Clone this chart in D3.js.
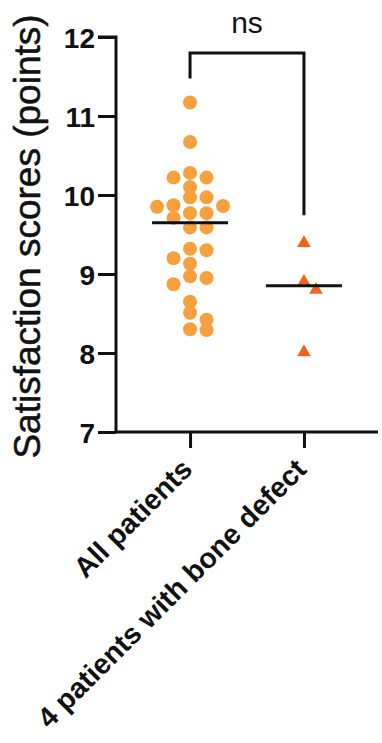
<!DOCTYPE html>
<html>
<head>
<meta charset="utf-8">
<script src="https://cdn.jsdelivr.net/npm/d3@7"></script>
<style>
  html, body { margin: 0; padding: 0; background: #fff; }
  svg { display: block; }
  text { font-family: "Liberation Sans", Arial, sans-serif; fill: #111; }
</style>
</head>
<body>
<svg id="chart" width="382" height="743"></svg>
<script>
// ---- data ----
const categories = ["All patients", "4 patients with bone defect"];
const allPatients = [11.17, 10.67, 10.28, 10.22, 10.22, 10.10, 9.97, 9.97, 9.87, 9.86, 9.85,
  9.77, 9.77, 9.71, 9.59, 9.59, 9.32, 9.30, 9.20, 9.13, 8.97, 8.95, 8.87, 8.65, 8.51, 8.42, 8.30, 8.29];
const boneDefect = [9.39, 8.90, 8.80, 8.01];
const yTicks = [7, 8, 9, 10, 11, 12];
const yLabel = "Satisfaction scores (points)";
const sigLabel = "ns";

// ---- layout ----
const svg = d3.select("#chart");
const x = d3.scalePoint().domain(categories).range([116, 378]).padding(0.65);
const y = d3.scaleLinear().domain([7, 12]).range([432, 37]);

// axes
const yAxis = d3.axisLeft(y).tickValues(yTicks).tickSize(18).tickPadding(3).tickFormat(d3.format("d"));
const gy = svg.append("g").attr("transform", "translate(116,0)").call(yAxis);
gy.select(".domain").attr("stroke", "#111").attr("stroke-width", 3)
  .attr("d", `M-18,${y(12)}H0V${y(7)}H0`);
gy.selectAll(".tick line").attr("stroke", "#111").attr("stroke-width", 3);
gy.selectAll(".tick text").style("font-size", "28px").style("font-weight", "bold")
  .attr("dy", "0.36em").attr("fill", "#111");

const xAxis = d3.axisBottom(x).tickSize(16).tickFormat("");
const gx = svg.append("g").attr("transform", `translate(0,${y(7)})`).call(xAxis);
gx.select(".domain").attr("stroke", "#111").attr("stroke-width", 3)
  .attr("d", `M114.5,0H378`);
gx.selectAll(".tick line").attr("stroke", "#111").attr("stroke-width", 3);

// x labels rotated
svg.append("g").selectAll("text").data(categories).join("text")
  .attr("transform", d => `translate(${x(d) + 4},${y(7) + 39}) rotate(-45)`)
  .attr("text-anchor", "end")
  .style("font-size", "28.5px").style("font-weight", "bold")
  .text(d => d);

// y title
svg.append("text")
  .attr("transform", `translate(40,${(y(7) + y(12)) / 2 + 2}) rotate(-90)`)
  .attr("text-anchor", "middle")
  .style("font-size", "37px")
  .style("stroke", "#111").style("stroke-width", 0.5)
  .text(yLabel);

// beeswarm placement into columns
function swarm(values, step, gap) {
  const order = [0, 1, -1, 2, -2, 3, -3];
  const placed = [];
  const sorted = values.slice().sort((a, b) => b - a);
  sorted.forEach(v => {
    const py = y(v);
    for (const c of order) {
      const clash = placed.some(p => p.c === c && Math.abs(p.py - py) < gap);
      if (!clash) { placed.push({ v, py, c, dx: c * step }); break; }
    }
  });
  return placed;
}

const circ = swarm(allPatients, 16.5, 10);
svg.append("g").selectAll("circle").data(circ).join("circle")
  .attr("cx", d => x(categories[0]) + d.dx)
  .attr("cy", d => d.py)
  .attr("r", 7)
  .attr("fill", "#F7A03E");

const tri = swarm(boneDefect, 12, 10);
svg.append("g").selectAll("path").data(tri).join("path")
  .attr("transform", d => `translate(${x(categories[1]) + d.dx},${d.py})`)
  .attr("d", d3.symbol(d3.symbolTriangle, 80))
  .attr("fill", "#F0641C");

// medians
const groups = [allPatients, boneDefect];
svg.append("g").selectAll("line").data(groups).join("line")
  .attr("x1", (d, i) => x(categories[i]) - 38)
  .attr("x2", (d, i) => x(categories[i]) + 38)
  .attr("y1", d => y(d3.median(d)))
  .attr("y2", d => y(d3.median(d)))
  .attr("stroke", "#111").attr("stroke-width", 3);

// significance bracket
const topY = 53;
const x0 = x(categories[0]), x1 = x(categories[1]);
svg.append("path")
  .attr("d", `M${x0},${y(d3.max(allPatients)) - 24}V${topY}H${x1}V${y(d3.max(boneDefect)) - 28}`)
  .attr("fill", "none").attr("stroke", "#111").attr("stroke-width", 3);
svg.append("text")
  .attr("x", (x0 + x1) / 2).attr("y", 33)
  .attr("text-anchor", "middle")
  .style("font-size", "30px")
  .text(sigLabel);
</script>
</body>
</html>
